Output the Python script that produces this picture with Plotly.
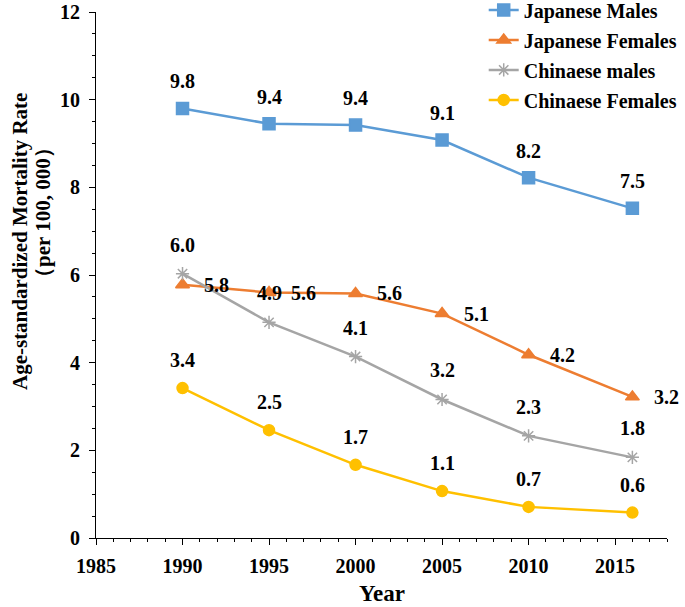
import plotly.graph_objects as go

years = [1990, 1995, 2000, 2005, 2010, 2016]
jp_males = [9.8, 9.45, 9.42, 9.08, 8.22, 7.52]
jp_females = [5.78, 5.6, 5.58, 5.12, 4.18, 3.22]
cn_males = [6.03, 4.92, 4.14, 3.16, 2.33, 1.84]
cn_females = [3.42, 2.46, 1.67, 1.07, 0.71, 0.58]

jp_males_lbl = ["9.8", "9.4", "9.4", "9.1", "8.2", "7.5"]
jp_females_lbl = ["5.8", "5.6", "5.6", "5.1", "4.2", "3.2"]
cn_males_lbl = ["6.0", "4.9", "4.1", "3.2", "2.3", "1.8"]
cn_females_lbl = ["3.4", "2.5", "1.7", "1.1", "0.7", "0.6"]

names = ["Japanese Males", "Japanese Females", "Chinaese males", "Chinaese Females"]
colors = ["#5B9BD5", "#ED7D31", "#A5A5A5", "#FFC000"]
symbols = ["square", "triangle-up", "asterisk-open", "circle"]
msizes = [12, 12, 11, 11]

FONT = "Liberation Serif, Times New Roman, serif"

fig = go.Figure()
series = [jp_males, jp_females, cn_males, cn_females]
labels = [jp_males_lbl, jp_females_lbl, cn_males_lbl, cn_females_lbl]
shifts = [(0, 27), (34, 0), (0, 29), (0, 28)]

for i, (vals, name) in enumerate(zip(series, names)):
    fig.add_trace(go.Scatter(
        x=years, y=vals, name=name, mode="lines+markers",
        legendgroup=name,
        line=dict(color=colors[i], width=2.5),
        marker=dict(symbol=symbols[i], size=msizes[i], color=colors[i],
                    line=dict(color=colors[i], width=1.5)),
    ))
    for x, y, t in zip(years, vals, labels[i]):
        fig.add_annotation(x=x, y=y, text=t, showarrow=False,
                           xshift=shifts[i][0], yshift=shifts[i][1],
                           font=dict(family=FONT, size=20, color="black", weight="bold"))

axis_font = dict(family=FONT, size=20, color="black", weight="bold")

fig.update_xaxes(
    range=[1985, 2018], tick0=1985, dtick=5, showgrid=False, zeroline=False,
    showline=True, linecolor="black", linewidth=1,
    ticks="outside", ticklen=6, tickcolor="black", tickfont=axis_font,
    ticklabelstandoff=4,
    minor=dict(dtick=1, ticks="outside", ticklen=3, tickcolor="black"),
)
fig.update_yaxes(
    range=[0, 12], dtick=2, showgrid=False, zeroline=False,
    showline=True, linecolor="black", linewidth=1,
    ticks="outside", ticklen=6, tickcolor="black", tickfont=axis_font,
    ticklabelstandoff=5,
    minor=dict(dtick=0.5, ticks="outside", ticklen=3, tickcolor="black"),
)

fig.add_annotation(xref="paper", yref="paper", x=0.5, y=-0.1046, text="Year",
                   showarrow=False, yanchor="middle",
                   font=dict(family=FONT, size=23, color="black", weight="bold"))
fig.add_annotation(xref="paper", yref="paper", x=-0.1331, y=0.5646,
                   text="Age-standardized Mortality Rate", textangle=-90,
                   showarrow=False, xanchor="center", yanchor="middle",
                   font=dict(family=FONT, size=21, color="black", weight="bold"))
fig.add_annotation(xref="paper", yref="paper", x=-0.0928, y=0.6179,
                   text="（per 100, 000）", textangle=-90,
                   showarrow=False, xanchor="center", yanchor="middle",
                   font=dict(family=FONT, size=21, color="black", weight="bold"))

fig.update_layout(
    width=685, height=607,
    margin=dict(l=96, r=18, t=12, b=69, autoexpand=False),
    plot_bgcolor="white", paper_bgcolor="white",
    legend=dict(x=0.679, y=1.041, xanchor="left", yanchor="top",
                bgcolor="rgba(0,0,0,0)", tracegroupgap=1,
                font=dict(family=FONT, size=20, color="black", weight="bold")),
    showlegend=True,
)

fig.write_html("out.html", config={"displayModeBar": False},
               post_script="document.body.style.margin='0';document.body.style.padding='0';")
